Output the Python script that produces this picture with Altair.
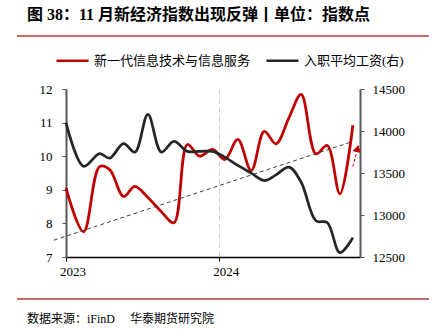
import altair as alt
import pandas as pd

# ---------------- data ----------------
dates = ["2023-01-01", "2023-02-12", "2023-03-22", "2023-04-15", "2023-05-18",
         "2023-06-14", "2023-07-15", "2023-08-16", "2023-09-15", "2023-10-17",
         "2023-11-15", "2023-12-16", "2024-01-14", "2024-02-14", "2024-03-17",
         "2024-04-17", "2024-05-15", "2024-06-15", "2024-07-14", "2024-08-18",
         "2024-09-14", "2024-10-14", "2024-11-14"]
it_index = [9.05, 7.75, 9.69, 9.60, 8.80, 9.10, 8.77, 8.35, 8.02, 10.35,
            10.00, 10.20, 9.90, 10.50, 9.57, 10.74, 10.37, 11.15, 11.84, 10.07,
            10.32, 8.88, 10.92]
wage = [14100, 13580, 13730, 13677, 13850, 13749, 14197, 13749, 13877, 13757,
        13757, 13757, 13689, 13590, 13498, 13410, 13478, 13570, 13390, 12931,
        12911, 12552, 12731]

trend_dates = ["2022-12-03", "2024-11-14"]
trend_vals = [7.50, 10.44]
arrow_dates = ["2024-11-14", "2024-11-27"]
arrow_vals = [9.69, 10.30]
head_dates = ["2024-11-25"]
head_vals = [10.23]

series_names = ["新一代信息技术与信息服务", "入职平均工资(右)"]
x_ticks = ["2023", "2024"]
left_ticks = [7, 8, 9, 10, 11, 12]
right_ticks = [12500, 13000, 13500, 14000, 14500]

TITLE = "图 38：11 月新经济指数出现反弹丨单位：指数点"
SOURCE = "数据来源：iFinD\u3000 华泰期货研究院"

# ---------------- styles ----------------
RED = "#c00000"
BLACK = "#262626"
SERIF = "Liberation Serif, Noto Sans CJK SC"

red_df = pd.DataFrame({"date": pd.to_datetime(dates), "value": it_index,
                       "series": series_names[0]})
blk_df = pd.DataFrame({"date": pd.to_datetime(dates), "value": wage,
                       "series": series_names[1]})
trend_df = pd.DataFrame({"date": pd.to_datetime(trend_dates), "value": trend_vals})
arrow_df = pd.DataFrame({"date": pd.to_datetime(arrow_dates), "value": arrow_vals})
head_df = pd.DataFrame({"date": pd.to_datetime(head_dates), "value": head_vals})
one = pd.DataFrame({"a": [0]})

x_scale = alt.Scale(domain=[alt.DateTime(year=2023, month=1, date=1),
                            alt.DateTime(year=2024, month=12, date=1)])
x_axis = alt.Axis(
    title=None, format="%Y",
    values=[alt.DateTime(year=int(y), month=1, date=1) for y in x_ticks],
    domainColor="#000000", domainWidth=1.5, tickColor="#000000", tickSize=4,
    labelFont=SERIF, labelFontSize=13, labelColor="#000000", labelPadding=4,
    labelAlign="center", labelOffset=6.5,
    grid=True, gridColor="#d0d0d0", gridDash=[5, 4], gridWidth=1,
)
x_enc = alt.X("date:T", scale=x_scale, axis=x_axis)

left_scale = alt.Scale(domain=[7, 12], nice=False, zero=False)
right_scale = alt.Scale(domain=[12500, 14500], nice=False, zero=False)
left_axis = alt.Axis(
    title=None, values=left_ticks, orient="left",
    domainColor="#595959", domainWidth=2, tickColor="#595959", tickSize=4,
    labelFont=SERIF, labelFontSize=13, labelColor="#000000", labelPadding=10,
    grid=False)
right_axis = alt.Axis(
    title=None, values=right_ticks, orient="right", format="d",
    domainColor="#595959", domainWidth=2, tickColor="#595959", tickSize=4,
    labelFont=SERIF, labelFontSize=13, labelColor="#000000", labelPadding=8,
    grid=False)
y_left = alt.Y("value:Q", scale=left_scale, axis=left_axis)

color_scale = alt.Scale(domain=series_names, range=[RED, BLACK])
legend = alt.Legend(
    title=None, orient="none", legendX=-11, legendY=-46, direction="horizontal",
    symbolType="stroke", symbolSize=1024, symbolStrokeWidth=2.5,
    labelFont=SERIF, labelFontSize=13, labelColor="#000000",
    labelOffset=4, columnPadding=10, padding=0,
)

red_line = alt.Chart(red_df).mark_line(
    interpolate="catmull-rom", strokeWidth=2.75
).encode(
    x=x_enc, y=y_left,
    color=alt.Color("series:N", scale=color_scale, legend=legend),
)

trend = alt.Chart(trend_df).mark_line(
    color="#404040", strokeWidth=1, strokeDash=[4, 3]
).encode(x=x_enc, y=y_left)

arrow_line = alt.Chart(arrow_df).mark_line(
    color=RED, strokeWidth=1, strokeDash=[3, 2]
).encode(x=x_enc, y=y_left)

arrow_head = alt.Chart(head_df).mark_point(
    shape="triangle-up", filled=True, color=RED, size=70, angle=14, opacity=1
).encode(x=x_enc, y=y_left)

left = alt.layer(red_line, trend, arrow_line, arrow_head)

black_line = alt.Chart(blk_df).mark_line(
    interpolate="catmull-rom", strokeWidth=2.75
).encode(
    x=x_enc,
    y=alt.Y("value:Q", scale=right_scale, axis=right_axis),
    color=alt.Color("series:N", scale=color_scale, legend=legend),
)

title_txt = alt.Chart(one).mark_text(
    text=TITLE, align="left", baseline="middle", font=SERIF, fontSize=16,
    fontWeight="bold", color="#000000"
).encode(x=alt.value(-39), y=alt.value(-74))

source_txt = alt.Chart(one).mark_text(
    text=SOURCE, align="left", baseline="middle", font=SERIF, fontSize=12,
    color="#000000"
).encode(x=alt.value(-39), y=alt.value(230))

top_rule = alt.Chart(one).mark_rule(color="#c96b6b", strokeWidth=2).encode(
    x=alt.value(-49), x2=alt.value(363), y=alt.value(-53))
bottom_rule = alt.Chart(one).mark_rule(color="#c96b6b", strokeWidth=2).encode(
    x=alt.value(-49), x2=alt.value(363), y=alt.value(210))

chart = alt.layer(
    left, black_line, title_txt, source_txt, top_rule, bottom_rule
).resolve_scale(
    y="independent"
).properties(
    width=294, height=168,
    autosize=alt.AutoSizeParams(type="none"),
    padding={"left": 66, "top": 89, "right": 83, "bottom": 72},
    background="#ffffff",
).configure_view(stroke=None)

chart.save("out.html", embed_options={"renderer": "svg", "actions": False})
